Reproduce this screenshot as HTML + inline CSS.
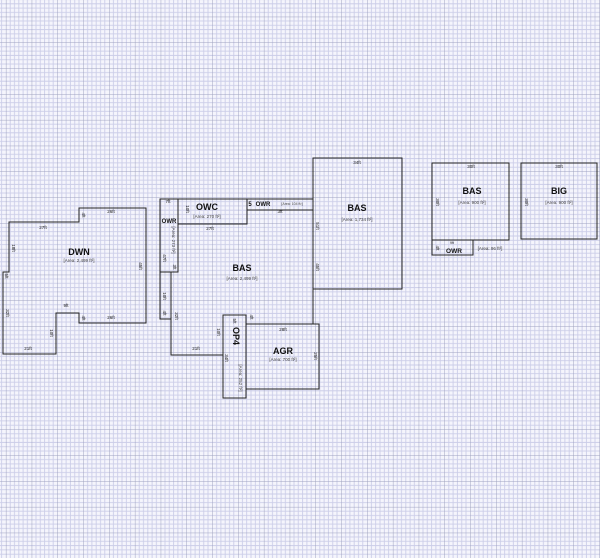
<!DOCTYPE html>
<html><head><meta charset="utf-8"><style>
html,body{margin:0;padding:0;background:#fff}
svg{display:block}
text{font-family:"Liberation Sans",sans-serif;fill:#222}
.b{font-weight:bold;font-size:9px;fill:#111}
.d{font-size:4.5px}
.a{font-size:4.5px;fill:#444}
.s{fill:none;stroke:#222;stroke-width:1}
</style></head><body>
<svg width="600" height="558" viewBox="0 0 600 558" xmlns="http://www.w3.org/2000/svg">
<defs>
<pattern id="g" x="5.9" y="16.7" width="25.8" height="25.8" patternUnits="userSpaceOnUse">
<g stroke="#cbcde8" stroke-width="0.9">
<line x1="4.3" y1="0" x2="4.3" y2="25.8"/><line x1="8.6" y1="0" x2="8.6" y2="25.8"/><line x1="12.9" y1="0" x2="12.9" y2="25.8"/><line x1="17.2" y1="0" x2="17.2" y2="25.8"/><line x1="21.5" y1="0" x2="21.5" y2="25.8"/>
<line y1="4.3" x1="0" y2="4.3" x2="25.8"/><line y1="8.6" x1="0" y2="8.6" x2="25.8"/><line y1="12.9" x1="0" y2="12.9" x2="25.8"/><line y1="17.2" x1="0" y2="17.2" x2="25.8"/><line y1="21.5" x1="0" y2="21.5" x2="25.8"/>
</g>
<g stroke="#9fa2c0" stroke-width="1"><line x1="0" y1="0" x2="0" y2="25.8"/><line x1="0" y1="0" x2="25.8" y2="0"/></g>
</pattern>
</defs>
<rect width="600" height="558" fill="#f5f5fc"/>
<rect width="600" height="558" fill="url(#g)"/>

<!-- DWN -->
<polygon class="s" points="79,208 146,208 146,323 79,323 79,313 56,313 56,354 3,354 3,272 9,272 9,222 79,222"/>
<text class="b" x="79" y="255" text-anchor="middle">DWN</text>
<text class="a" x="79" y="262" text-anchor="middle">[Area: 2,499 ft²]</text>
<text class="d" x="43" y="229" text-anchor="middle">27ft</text>
<text class="d" x="111" y="213" text-anchor="middle">26ft</text>
<text class="d" x="111" y="319" text-anchor="middle">26ft</text>
<text class="d" x="66" y="307" text-anchor="middle">9ft</text>
<text class="d" x="28" y="350" text-anchor="middle">21ft</text>
<text class="d" transform="translate(82,215) rotate(90)" text-anchor="middle">4ft</text>
<text class="d" transform="translate(12,248) rotate(90)" text-anchor="middle">18ft</text>
<text class="d" transform="translate(139,266) rotate(90)" text-anchor="middle">45ft</text>
<text class="d" transform="translate(5,276) rotate(90)" text-anchor="middle">5ft</text>
<text class="d" transform="translate(6,313) rotate(90)" text-anchor="middle">32ft</text>
<text class="d" transform="translate(82,318) rotate(90)" text-anchor="middle">4ft</text>
<text class="d" transform="translate(50,333) rotate(90)" text-anchor="middle">10ft</text>

<!-- Middle BAS -->
<polyline class="s" points="178,224 247,224 247,210 313,210 313,324"/>
<polyline class="s" points="171,272 171,355 223,355"/>
<rect class="s" x="160" y="199" width="18" height="73"/>
<rect class="s" x="160" y="272" width="11" height="47"/>
<rect class="s" x="178" y="199" width="69" height="25"/>
<rect class="s" x="247" y="199" width="66" height="11"/>
<rect class="s" x="313" y="158" width="89" height="131"/>
<rect class="s" x="223" y="315" width="23" height="83"/>
<rect class="s" x="246" y="324" width="73" height="65"/>

<text class="b" x="242" y="271" text-anchor="middle">BAS</text>
<text class="a" x="242" y="280" text-anchor="middle">[Area: 2,499 ft²]</text>
<text class="b" x="207" y="210" text-anchor="middle">OWC</text>
<text class="a" x="207" y="218" text-anchor="middle">[Area: 270 ft²]</text>
<text class="d" x="210" y="230" text-anchor="middle">27ft</text>
<text class="d" transform="translate(186,209) rotate(90)" text-anchor="middle">10ft</text>
<text class="d" x="168" y="203" text-anchor="middle">7ft</text>
<text class="b" x="169" y="223" text-anchor="middle" style="font-size:6px">OWR</text>
<text class="a" transform="translate(172,240) rotate(90)" text-anchor="middle">[Area: 273 ft²]</text>
<text class="d" transform="translate(163,258) rotate(90)" text-anchor="middle">47ft</text>
<text class="d" transform="translate(173,267) rotate(90)" text-anchor="middle">3ft</text>
<text class="d" transform="translate(163,296) rotate(90)" text-anchor="middle">10ft</text>
<text class="d" transform="translate(163,313) rotate(90)" text-anchor="middle">4ft</text>
<text class="d" transform="translate(175,316) rotate(90)" text-anchor="middle">32ft</text>
<text class="d" x="196" y="350" text-anchor="middle">21ft</text>
<text class="b" x="250" y="206" text-anchor="middle" style="font-size:6px">5</text>
<text class="b" x="263" y="206" text-anchor="middle" style="font-size:6px">OWR</text>
<text class="a" x="292" y="205" text-anchor="middle" style="font-size:3.5px">[Area: 104 ft²]</text>
<text class="d" x="280" y="213" text-anchor="middle">3ft</text>
<text class="d" x="357" y="164" text-anchor="middle">34ft</text>
<text class="b" x="357" y="211" text-anchor="middle">BAS</text>
<text class="a" x="357" y="221" text-anchor="middle">[Area: 1,734 ft²]</text>
<text class="d" transform="translate(316,226) rotate(90)" text-anchor="middle">51ft</text>
<text class="d" transform="translate(316,267) rotate(90)" text-anchor="middle">45ft</text>
<text class="d" x="283" y="331" text-anchor="middle">28ft</text>
<text class="b" x="283" y="354" text-anchor="middle">AGR</text>
<text class="a" x="283" y="361" text-anchor="middle">[Area: 700 ft²]</text>
<text class="d" transform="translate(314,356) rotate(90)" text-anchor="middle">25ft</text>
<text class="d" transform="translate(250,317) rotate(90)" text-anchor="middle">4ft</text>
<text class="b" transform="translate(233,336) rotate(90)" text-anchor="middle">OP4</text>
<text class="d" transform="translate(233,321) rotate(90)" text-anchor="middle">5ft</text>
<text class="d" transform="translate(217,332) rotate(90)" text-anchor="middle">10ft</text>
<text class="d" transform="translate(225,358) rotate(90)" text-anchor="middle">34ft</text>
<text class="a" transform="translate(239,378) rotate(90)" text-anchor="middle">[Area: 252 ft²]</text>

<!-- Right -->
<rect class="s" x="432" y="163" width="77" height="77"/>
<rect class="s" x="432" y="240" width="41" height="15"/>
<rect class="s" x="521" y="163" width="76" height="76"/>
<text class="d" x="471" y="168" text-anchor="middle">30ft</text>
<text class="b" x="472" y="194" text-anchor="middle">BAS</text>
<text class="a" x="472" y="204" text-anchor="middle">[Area: 900 ft²]</text>
<text class="d" transform="translate(436,202) rotate(90)" text-anchor="middle">30ft</text>
<text class="d" x="452" y="244" text-anchor="middle" style="font-size:3.5px">9ft</text>
<text class="d" transform="translate(436,248) rotate(90)" text-anchor="middle">4ft</text>
<text class="b" x="454" y="253" text-anchor="middle" style="font-size:6.5px">OWR</text>
<text class="a" x="490" y="250" text-anchor="middle">[Area: 96 ft²]</text>
<text class="d" x="559" y="168" text-anchor="middle">30ft</text>
<text class="b" x="559" y="194" text-anchor="middle">BIG</text>
<text class="a" x="559" y="204" text-anchor="middle">[Area: 900 ft²]</text>
<text class="d" transform="translate(525,202) rotate(90)" text-anchor="middle">30ft</text>
</svg>
</body></html>
